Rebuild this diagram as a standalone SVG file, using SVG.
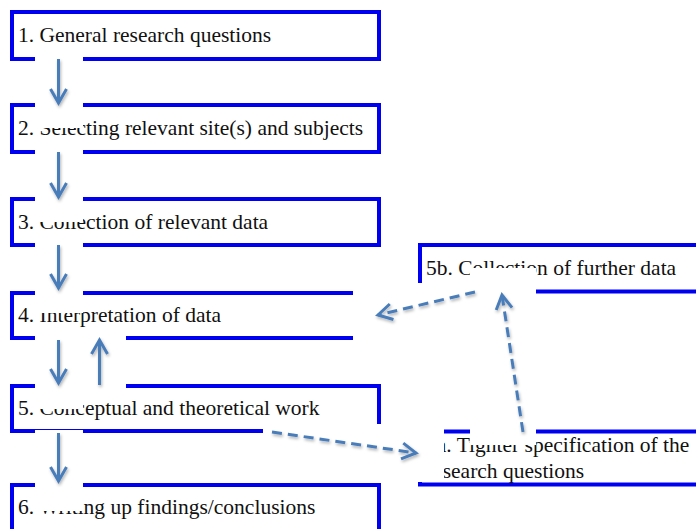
<svg xmlns="http://www.w3.org/2000/svg" width="696" height="529" viewBox="0 0 696 529">
<style>
.box{fill:#fff;stroke:#0000F0;stroke-width:4}
.lbl{font-family:"Liberation Serif","Times New Roman",serif;font-size:21.5px;fill:#111}
.mask{fill:#fff;stroke:none}
.arr{fill:none;stroke:#4A7DBA;stroke-width:3;filter:url(#sh)}
.dash{stroke-dasharray:10 6}
</style>
<defs>
<filter id="sh" filterUnits="userSpaceOnUse" x="0" y="0" width="696" height="529">
<feDropShadow dx="1" dy="2" stdDeviation="1.5" flood-color="#000" flood-opacity="0.3"/>
</filter>
<marker id="ah" markerUnits="userSpaceOnUse" viewBox="-18 -12 22 24" refX="0" refY="0" markerWidth="22" markerHeight="24" orient="auto" overflow="visible">
<path d="M-14,-8 L0,0 L-14,8" fill="none" stroke="#4A7DBA" stroke-width="3" stroke-linejoin="miter"/>
</marker>
</defs>
<rect width="696" height="529" fill="#fff"/>
<g id="n1"><rect class="box" x="12" y="12" width="367" height="47"/><text class="lbl" x="18" y="42">1. General research questions</text></g>
<g id="n2"><rect class="box" x="12" y="105" width="367" height="47"/><text class="lbl" x="18" y="135">2. Selecting relevant site(s) and subjects</text></g>
<g id="n3"><rect class="box" x="12" y="199" width="367" height="46"/><text class="lbl" x="18" y="229">3. Collection of relevant data</text></g>
<g id="n4"><rect class="box" x="12" y="293" width="367" height="45"/><text class="lbl" x="18" y="322">4. Interpretation of data</text></g>
<g id="n5"><rect class="box" x="12" y="386" width="367" height="45"/><text class="lbl" x="18" y="414.5">5. Conceptual and theoretical work</text></g>
<g id="n6"><rect class="box" x="12" y="485" width="367" height="60"/><text class="lbl" x="18" y="514">6. Writing up findings/conclusions</text></g>
<g id="n5b"><rect class="box" x="420" y="245" width="290" height="46.5"/><text class="lbl" x="426" y="275">5b. Collection of further data</text></g>
<g id="n5a"><rect class="box" x="420" y="431.5" width="290" height="53"/><text class="lbl" x="426" y="452">5a. Tighter specification of the</text><text class="lbl" x="426" y="478">research questions</text></g>
<g id="connectors">
<rect class="mask" x="35" y="56" width="48" height="72"/>
<rect class="mask" x="35" y="149" width="48" height="73"/>
<rect class="mask" x="35" y="243" width="48" height="70"/>
<rect class="mask" x="35" y="336" width="48" height="73"/>
<rect class="mask" x="83" y="327" width="43" height="61"/>
<rect class="mask" x="35" y="430" width="48" height="81"/>
<rect class="mask" x="353" y="283" width="125" height="59"/>
<rect class="mask" x="470" y="268" width="66" height="177"/>
<rect class="mask" x="263" y="424" width="181" height="58"/>
<path class="arr" d="M58.5,59 L58.5,103" marker-end="url(#ah)"/>
<path class="arr" d="M58.5,152 L58.5,197" marker-end="url(#ah)"/>
<path class="arr" d="M58.5,245 L58.5,288" marker-end="url(#ah)"/>
<path class="arr" d="M58.5,340 L58.5,383" marker-end="url(#ah)"/>
<path class="arr" d="M99.5,385 L99.5,340" marker-end="url(#ah)"/>
<path class="arr" d="M58.5,433 L58.5,481" marker-end="url(#ah)"/>
<path class="arr dash" d="M475,292 L378,315" marker-end="url(#ah)"/>
<path class="arr dash" d="M523,432 L502,295" marker-end="url(#ah)"/>
<path class="arr dash" d="M272,432 L416,453" marker-end="url(#ah)"/>
</g>
</svg>
